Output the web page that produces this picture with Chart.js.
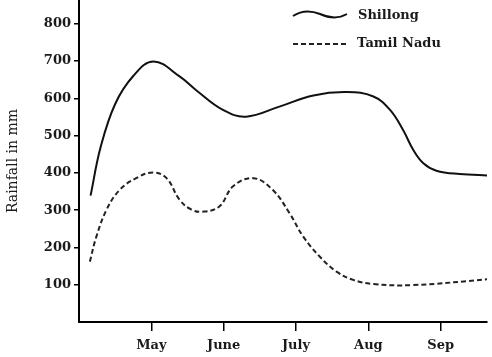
<!DOCTYPE html>
<html>
<head>
<meta charset="utf-8">
<script src="https://cdn.jsdelivr.net/npm/chart.js@4"></script>
<style>
  html, body { margin: 0; padding: 0; background: #fff; }
  #wrap { width: 492px; height: 357px; position: relative; }
</style>
</head>
<body>
<div id="wrap"><canvas id="c" width="492" height="357"></canvas></div>
<script>
// ---- data ----
const monthLabels = ['Apr', 'May', 'June', 'July', 'Aug', 'Sep'];
const monthTickPositions = [1, 2, 3, 4, 5];
const yTickValues = [100, 200, 300, 400, 500, 600, 700, 800];

const shillongX = [0.16, 0.30, 0.50, 0.75, 1.03, 1.39, 1.62, 1.99, 2.31, 2.77, 3.24, 3.70, 4.07, 4.30, 4.48, 4.62, 4.76, 4.94, 5.26, 5.68];
const shillongY = [339, 470, 585, 660, 699, 659, 622, 569, 551, 578, 608, 617, 605, 569, 515, 462, 426, 406, 397, 393];

const tamilX = [0.15, 0.24, 0.38, 0.56, 0.79, 1.02, 1.21, 1.39, 1.55, 1.71, 1.94, 2.13, 2.41, 2.68, 2.91, 3.10, 3.33, 3.56, 3.79, 4.07, 4.61, 5.68];
const tamilY = [162, 229, 301, 354, 386, 401, 386, 328, 302, 296, 310, 364, 386, 354, 292, 229, 175, 135, 113, 102, 99, 115];

const seriesNames = ['Shillong', 'Tamil Nadu'];

const toPts = (xs, ys) => xs.map((x, i) => ({ x: x, y: ys[i] }));

const FONT = '"DejaVu Serif", "Liberation Serif", serif';

const legendPlugin = {
  id: 'customLegend',
  afterDraw(chart) {
    const ctx = chart.ctx;
    ctx.save();
    ctx.font = 'bold 13px ' + FONT;
    ctx.fillStyle = '#1a1a1a';
    ctx.textBaseline = 'middle';
    ctx.textAlign = 'left';
    // Shillong: wavy solid sample
    ctx.strokeStyle = '#111';
    ctx.lineWidth = 2;
    ctx.setLineDash([]);
    ctx.beginPath();
    ctx.moveTo(293, 16);
    ctx.bezierCurveTo(302, 10, 310, 10, 320, 14);
    ctx.bezierCurveTo(331, 19, 340, 18, 347, 14);
    ctx.stroke();
    ctx.fillText(chart.data.datasets[0].label, 358, 16);
    // Tamil Nadu: dashed sample
    ctx.strokeStyle = '#222';
    ctx.setLineDash([5, 3]);
    ctx.beginPath();
    ctx.moveTo(293, 44);
    ctx.lineTo(347, 44);
    ctx.stroke();
    ctx.setLineDash([]);
    ctx.fillText(chart.data.datasets[1].label, 357, 44);
    ctx.restore();
  }
};

new Chart(document.getElementById('c'), {
  type: 'line',
  data: {
    datasets: [
      {
        label: seriesNames[0],
        data: toPts(shillongX, shillongY),
        borderColor: '#111',
        borderWidth: 2,
        pointRadius: 0,
        tension: 0.4,
        fill: false
      },
      {
        label: seriesNames[1],
        data: toPts(tamilX, tamilY),
        borderColor: '#222',
        borderWidth: 2,
        borderDash: [5, 3],
        pointRadius: 0,
        tension: 0.4,
        fill: false
      }
    ]
  },
  options: {
    responsive: false,
    animation: false,
    devicePixelRatio: 1,
    layout: { padding: { top: 0, right: 5, left: 0, bottom: 0 } },
    plugins: {
      legend: { display: false },
      tooltip: { enabled: false }
    },
    scales: {
      x: {
        type: 'linear',
        min: 0,
        max: 5.64,
        afterBuildTicks(axis) {
          axis.ticks = monthTickPositions.map(v => ({ value: v }));
        },
        afterFit(scale) {
          scale.height = 35;
          scale.paddingLeft = 0;
          scale.paddingRight = 0;
        },
        border: { display: true, color: '#000', width: 2 },
        grid: { display: true, drawOnChartArea: false, drawTicks: true, tickLength: 9, color: '#000', lineWidth: 1.5 },
        ticks: {
          autoSkip: false,
          maxRotation: 0,
          padding: 7,
          color: '#1a1a1a',
          font: { family: FONT, size: 13, weight: 'bold' },
          callback: (v) => monthLabels[Math.round(v)] || ''
        }
      },
      y: {
        type: 'linear',
        min: 0,
        max: 864,
        afterBuildTicks(axis) {
          axis.ticks = yTickValues.map(v => ({ value: v }));
        },
        afterFit(scale) {
          scale.width = 79;
          scale.paddingTop = 0;
          scale.paddingBottom = 0;
        },
        border: { display: true, color: '#000', width: 2 },
        grid: { display: true, drawOnChartArea: false, drawTicks: true, tickLength: 5, color: '#000', lineWidth: 1.5 },
        ticks: {
          autoSkip: false,
          padding: 3,
          color: '#1a1a1a',
          font: { family: FONT, size: 13, weight: 'bold' }
        },
        title: {
          display: true,
          text: 'Rainfall in mm',
          color: '#1a1a1a',
          font: { family: FONT, size: 14, weight: 'normal' },
          padding: { top: 5, bottom: 0 }
        }
      }
    }
  },
  plugins: [legendPlugin]
});
</script>
</body>
</html>
